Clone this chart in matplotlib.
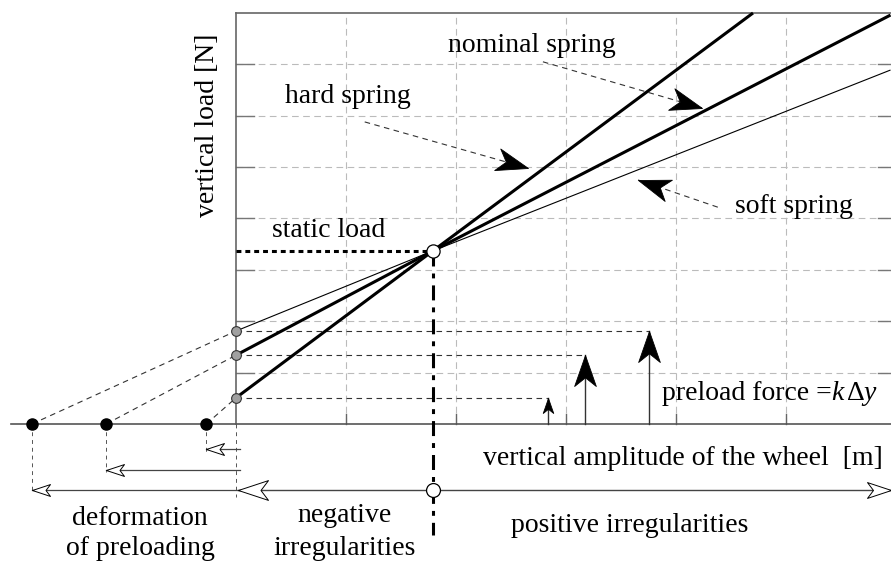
import numpy as np
import matplotlib
matplotlib.use("Agg")
import matplotlib.pyplot as plt
from matplotlib.path import Path
from matplotlib.markers import MarkerStyle
from matplotlib.transforms import Affine2D

plt.rcParams['font.family'] = ['Liberation Serif', 'DejaVu Serif']

# units: one grid column on x, one grid row on y
grid_x = [1, 2, 3, 4, 5]
grid_y = [1, 2, 3, 4, 5, 6, 7]
y_top = 8
x_right = 6.0

# static load point (all three springs cross here)
static_x, static_y = 1.79, 3.37

# springs: soft, nominal, hard
preload = [1.81, 1.34, 0.51]          # load at zero amplitude
free_end = [-1.855, -1.18, -0.27]     # unloaded spring length (black dots)
end_x = [5.95, 5.95, 4.70]
end_y = [6.89, 7.96, 8.00]
spring_lw = [0.8, 2.2, 2.2]
arrow_x = [3.75, 3.17, 2.84]          # preload force arrows
arrow_head = [31, 31, 15]
defo_row = [-1.28, -0.90, -0.49]      # deformation arrows under the axis
defo_drop = [-1.32, -0.93, -0.545]

# label arrows: nominal, hard, soft
ann_from = [(2.79, 7.05), (1.17, 5.88), (4.38, 4.22)]
ann_to = [(4.236, 6.15), (2.655, 4.98), (3.655, 4.75)]

row_y = -1.28          # irregularities row
dashdot_end = -2.16

fig = plt.figure(figsize=(8.91, 5.63), dpi=100)
ax = fig.add_axes([0, 0, 1, 1])
ax.set_xlim(-2.1455, 5.9545)
ax.set_ylim(-2.7056, 8.253)
ax.axis('off')

stealth = Path([(0, 0), (-1, 0.35), (-0.72, 0), (-1, -0.35), (0, 0)],
               [Path.MOVETO, Path.LINETO, Path.LINETO, Path.LINETO, Path.CLOSEPOLY])
open_head = Path([(0, 0), (-1, 0.33), (-0.75, 0), (-1, -0.33), (0, 0)],
                 [Path.MOVETO, Path.LINETO, Path.LINETO, Path.LINETO, Path.CLOSEPOLY])


def head(x, y, x0, y0, length, filled=True, lw=0.6):
    # arrow head at (x, y) pointing away from (x0, y0)
    p1 = ax.transData.transform((x0, y0))
    p2 = ax.transData.transform((x, y))
    ang = np.degrees(np.arctan2(p2[1] - p1[1], p2[0] - p1[0]))
    m = MarkerStyle(stealth if filled else open_head,
                    transform=Affine2D().rotate_deg(ang))
    ax.plot([x], [y], ls='none', marker=m, ms=length * 1.44,
            mfc='black' if filled else 'white', mec='black', mew=lw, zorder=7)


# grid
for gx in grid_x:
    ax.plot([gx, gx], [0, y_top], color='#bbbbbb', lw=0.8, dashes=(6, 4), zorder=1)
    ax.plot([gx, gx], [0, 0.2], color='#666666', lw=1.0, zorder=2)
for gy in grid_y:
    ax.plot([0, x_right], [gy, gy], color='#bbbbbb', lw=0.8, dashes=(6, 4), zorder=1)
    ax.plot([0, 0.164], [gy, gy], color='#777777', lw=1.0, zorder=2)
    ax.plot([x_right - 0.164, x_right], [gy, gy], color='#777777', lw=1.0, zorder=2)

# axes frame
ax.plot([0, 0], [0, y_top], color='#666666', lw=1.2, zorder=3)
ax.plot([0, x_right], [y_top, y_top], color='#666666', lw=1.2, zorder=3)
ax.plot([-2.05, x_right], [0, 0], color='#555555', lw=1.2, zorder=3)

# springs
for i in range(3):
    ax.plot([0, static_x, end_x[i]], [preload[i], static_y, end_y[i]],
            color='black', lw=spring_lw[i], solid_capstyle='butt', zorder=5)
    ax.plot([free_end[i], 0], [0, preload[i]], color='#333333', lw=0.8,
            dashes=(5, 4), zorder=4)
    ax.plot([0, arrow_x[i]], [preload[i], preload[i]], color='#333333', lw=0.8,
            dashes=(5, 4), zorder=4)
    # preload force arrow
    ax.plot([arrow_x[i], arrow_x[i]], [0, preload[i]], color='#333333', lw=1.0, zorder=5)
    head(arrow_x[i], preload[i], arrow_x[i], 0, arrow_head[i])
    # deformation of preloading
    ax.plot([free_end[i], free_end[i]], [0, defo_drop[i]], color='#555555', lw=0.7,
            dashes=(4, 4), zorder=3)
    ax.plot([free_end[i], 0.04], [defo_row[i], defo_row[i]], color='#444444', lw=0.9, zorder=4)
    head(free_end[i], defo_row[i], 0, defo_row[i], 18, filled=False, lw=0.7)
    ax.plot([0], [preload[i]], 'o', ms=7, mfc='#a0a0a0', mec='#333333', mew=0.8, zorder=8)
    ax.plot([free_end[i]], [0], 'o', ms=8, mfc='black', mec='black', zorder=8)

ax.plot([0, 0], [0, -1.42], color='#555555', lw=0.7, dashes=(4, 4), zorder=3)

# static load
ax.plot([0, static_x], [static_y, static_y], color='black', lw=2.2,
        dashes=(1.6, 1.3), zorder=4)
ax.plot([static_x, static_x], [static_y, dashdot_end], color='black', lw=2.2,
        dashes=(4.9, 2.3, 1.6, 2.3), zorder=4)
ax.plot([static_x], [static_y], 'o', ms=9.5, mfc='white', mec='black', mew=0.9, zorder=9)

# irregularities row
ax.plot([0.02, 5.95], [row_y, row_y], color='#444444', lw=1.0, zorder=4)
head(0.02, row_y, 1, row_y, 30, filled=False, lw=0.7)
head(5.95, row_y, 5, row_y, 24, filled=False, lw=0.7)
ax.plot([static_x], [row_y], 'o', ms=10, mfc='white', mec='black', mew=0.9, zorder=9)

# label arrows
for (x0, y0), (x1, y1) in zip(ann_from, ann_to):
    ax.plot([x0, x1], [y0, y1], color='#333333', lw=0.8, dashes=(5, 4), zorder=4)
    head(x1, y1, x0, y0, 32)

fs = 20
ax.text(2.69, 7.24, 'nominal spring', fontsize=fs, ha='center', va='baseline')
ax.text(0.445, 6.25, 'hard spring', fontsize=fs, ha='left', va='baseline')
ax.text(4.536, 4.107, 'soft spring', fontsize=fs, ha='left', va='baseline')
ax.text(0.327, 3.64, 'static load', fontsize=fs, ha='left', va='baseline')
ax.text(3.873, 0.467, 'preload force =', fontsize=fs, ha='left', va='baseline')
ax.text(5.41, 0.467, 'k', fontsize=fs, style='italic', ha='left', va='baseline')
ax.text(5.55, 0.467, '\u0394', fontsize=fs, ha='left', va='baseline')
ax.text(5.70, 0.467, 'y', fontsize=fs, style='italic', ha='left', va='baseline')
ax.text(5.88, -0.80, 'vertical amplitude of the wheel  [m]', fontsize=fs,
        ha='right', va='baseline')
ax.text(0.99, -1.907, 'negative', fontsize=fs, ha='center', va='baseline')
ax.text(0.99, -2.55, 'irregularities', fontsize=fs, ha='center', va='baseline')
ax.text(3.58, -2.10, 'positive irregularities', fontsize=fs, ha='center', va='baseline')
ax.text(-0.873, -1.966, 'deformation', fontsize=fs, ha='center', va='baseline')
ax.text(-0.873, -2.55, 'of preloading', fontsize=fs, ha='center', va='baseline')
ax.text(-0.255, 5.82, 'vertical load [N]', fontsize=fs, rotation=90,
        ha='center', va='center')

fig.savefig('out.png', dpi=100)
